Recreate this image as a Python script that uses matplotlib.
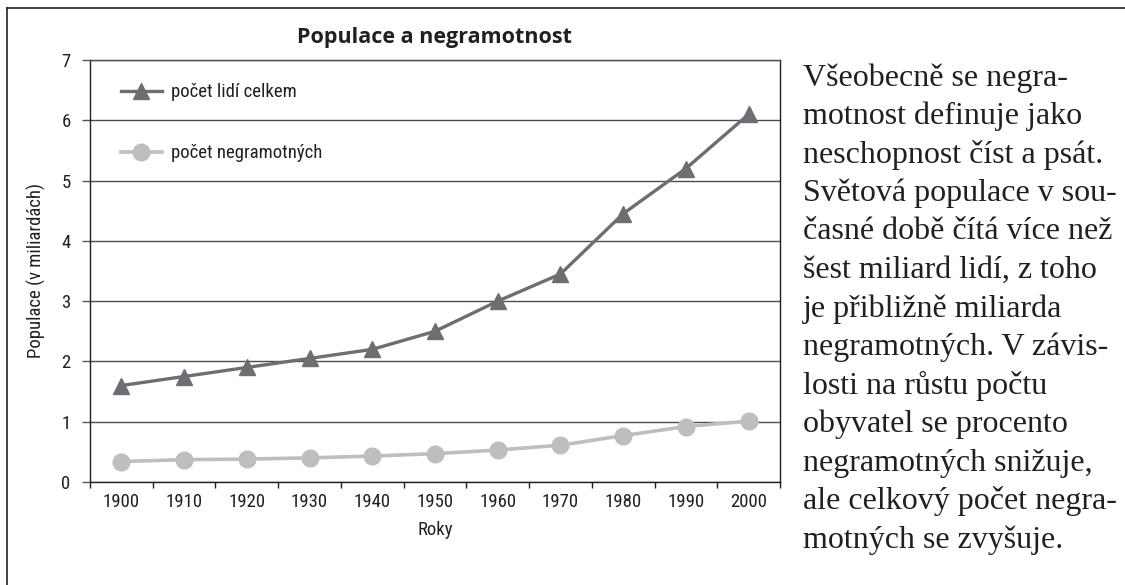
import matplotlib
matplotlib.use("Agg")
import matplotlib.pyplot as plt
from matplotlib.lines import Line2D
from matplotlib import font_manager as fm

years = ["1900", "1910", "1920", "1930", "1940", "1950", "1960", "1970", "1980", "1990", "2000"]
total = [1.6, 1.75, 1.9, 2.05, 2.2, 2.5, 3.0, 3.45, 4.45, 5.2, 6.1]
illiterate = [0.34, 0.37, 0.38, 0.40, 0.43, 0.47, 0.53, 0.61, 0.77, 0.92, 1.01]
series_names = ["počet lidí celkem", "počet negramotných"]
title = "Populace a negramotnost"
xlabel = "Roky"
ylabel = "Populace (v miliardách)"
body_lines = [
    "Všeobecně se negra-",
    "motnost definuje jako",
    "neschopnost číst a psát.",
    "Světová populace v sou-",
    "časné době čítá více než",
    "šest miliard lidí, z toho",
    "je přibližně miliarda",
    "negramotných. V závis-",
    "losti na růstu počtu",
    "obyvatel se procento",
    "negramotných snižuje,",
    "ale celkový počet negra-",
    "motných se zvyšuje.",
]

W, H = 1125, 585
fig = plt.figure(figsize=(W / 100, H / 100), dpi=100)
narrow = ["Liberation Sans Narrow", "Roboto Condensed", "Open Sans Condensed", "DejaVu Sans"]
fp = fm.FontProperties(family=narrow, stretch="condensed", size=13.5)

ax = fig.add_axes([90 / W, 1 - 482 / H, (780 - 90) / W, (482 - 60) / H])
x = list(range(len(years)))
dark = "#6d6e71"
light = "#bcbec0"
ax.plot(x, total, color=dark, lw=2.4, marker="^", ms=12, mec=dark, mfc=dark, zorder=3)
ax.plot(x, illiterate, color=light, lw=2.6, marker="o", ms=12, mec=light, mfc=light, zorder=3)

ax.set_xlim(-0.5, len(years) - 0.5)
ax.set_ylim(0, 7)
ax.set_yticks(range(0, 8))
ax.set_xticks(x)
ax.set_xticklabels(years)
ax.set_xticks([i + 0.5 for i in range(-1, len(years))], minor=True)
ax.tick_params(axis="x", which="major", length=0, pad=8)
ax.tick_params(axis="x", which="minor", length=4, width=1, color="#231f20")
ax.tick_params(axis="y", length=6, width=1, color="#555555", pad=8)
for lab in ax.get_xticklabels() + ax.get_yticklabels():
    lab.set_fontproperties(fp)
    lab.set_color("#231f20")
ax.grid(axis="y", color="#4d4d4d", lw=1)
ax.set_axisbelow(True)
for s in ["left", "right", "top", "bottom"]:
    ax.spines[s].set_color("#231f20")
    ax.spines[s].set_linewidth(1)
ax.spines["top"].set_color("#4d4d4d")

ax.set_xlabel(xlabel, fontproperties=fp, color="#231f20", labelpad=7)
ax.set_ylabel(ylabel, fontproperties=fp, color="#231f20", labelpad=11)
ax.set_title(title, family="Open Sans", fontweight="bold", fontsize=15.5, color="#231f20", pad=12)

handles = [
    Line2D([], [], color=dark, lw=2.4, marker="^", ms=12, mfc=dark, mec=dark),
    Line2D([], [], color=light, lw=2.6, marker="o", ms=12, mfc=light, mec=light),
]
leg = ax.legend(handles, series_names, loc="upper left", bbox_to_anchor=(0.02, 0.985),
                frameon=False, prop=fp,
                labelspacing=2.3, handlelength=2.2, handletextpad=0.5)
for t in leg.get_texts():
    t.set_color("#231f20")

# outer frame lines
fig.add_artist(Line2D([7 / W, 7 / W], [0, 1 - 8 / H], color="#231f20", lw=1.2, transform=fig.transFigure))
fig.add_artist(Line2D([7 / W, 1], [1 - 8 / H, 1 - 8 / H], color="#231f20", lw=1.2, transform=fig.transFigure))

# body text
y0 = 78
step = 38.5
for i, line in enumerate(body_lines):
    fig.text(803 / W, 1 - (y0 + i * step) / H, line, family="Liberation Serif",
             fontsize=23, color="#231f20", va="center", ha="left")

fig.savefig("out.png", dpi=100, facecolor="white")
